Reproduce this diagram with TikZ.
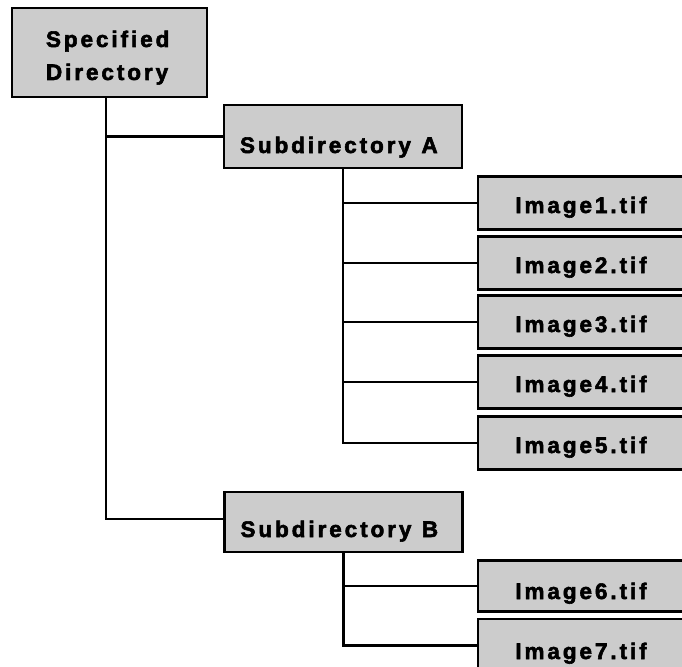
\documentclass[tikz,border=0pt]{standalone}
\usepackage{fontspec}
\newfontfamily\boxfont{Liberation Sans}[LetterSpace=13, FakeBold=2.5]
\begin{document}
\begin{tikzpicture}[x=1pt,y=-1pt,
  box/.style={draw=black, line width=2.4pt, fill=black!20, inner sep=0pt,
    font=\boxfont\bfseries\fontsize{22.5}{33}\selectfont},
  specbox/.style={box, text width=127pt, align=left, minimum width=195pt,
    minimum height=89pt, text height=22pt, text depth=33pt},
  subbox/.style={box, text width=206pt, inner xsep=16pt, align=left,
    text depth=0pt},
  imgbox/.style={box, minimum width=206pt, minimum height=53pt,
    text height=20pt, text depth=0pt},
  link/.style={line width=2.4pt}]
\useasboundingbox (0,0) rectangle (682,666);
\clip (0,0) rectangle (682,666);

% directory boxes
\node[specbox] (spec) at (109.5,52.5) {Specified\\Directory};
\node[subbox, minimum height=63pt, text height=33pt] (subA) at (343,136.5) {Subdirectory \kern3pt A};
\node[subbox, minimum height=60pt, text height=30pt] (subB) at (343.5,522) {Subdirectory \kern3pt B};

% image files
\node[imgbox] (img1) at (581,203) {Image1.tif};
\node[imgbox] (img2) at (581,263) {Image2.tif};
\node[imgbox] (img3) at (581,322) {Image3.tif};
\node[imgbox] (img4) at (581,382) {Image4.tif};
\node[imgbox] (img5) at (581,443) {Image5.tif};
\node[imgbox, minimum height=51pt, text height=26pt] (img6) at (581,586) {Image6.tif};
\node[imgbox, text height=27pt] (img7) at (581,645.5) {Image7.tif};

% tree connectors
\draw[link] ([xshift=-3.5pt]spec.south) |- (subA.west);
\draw[link] ([xshift=-3.5pt]spec.south) |- ([yshift=3pt]subB.west);
\foreach \i in {1,...,5}
  \draw[link] (subA.south) |- (img\i.west);
\foreach \i in {6,7}
  \draw[link] (subB.south) |- (img\i.west);
\end{tikzpicture}
\end{document}
